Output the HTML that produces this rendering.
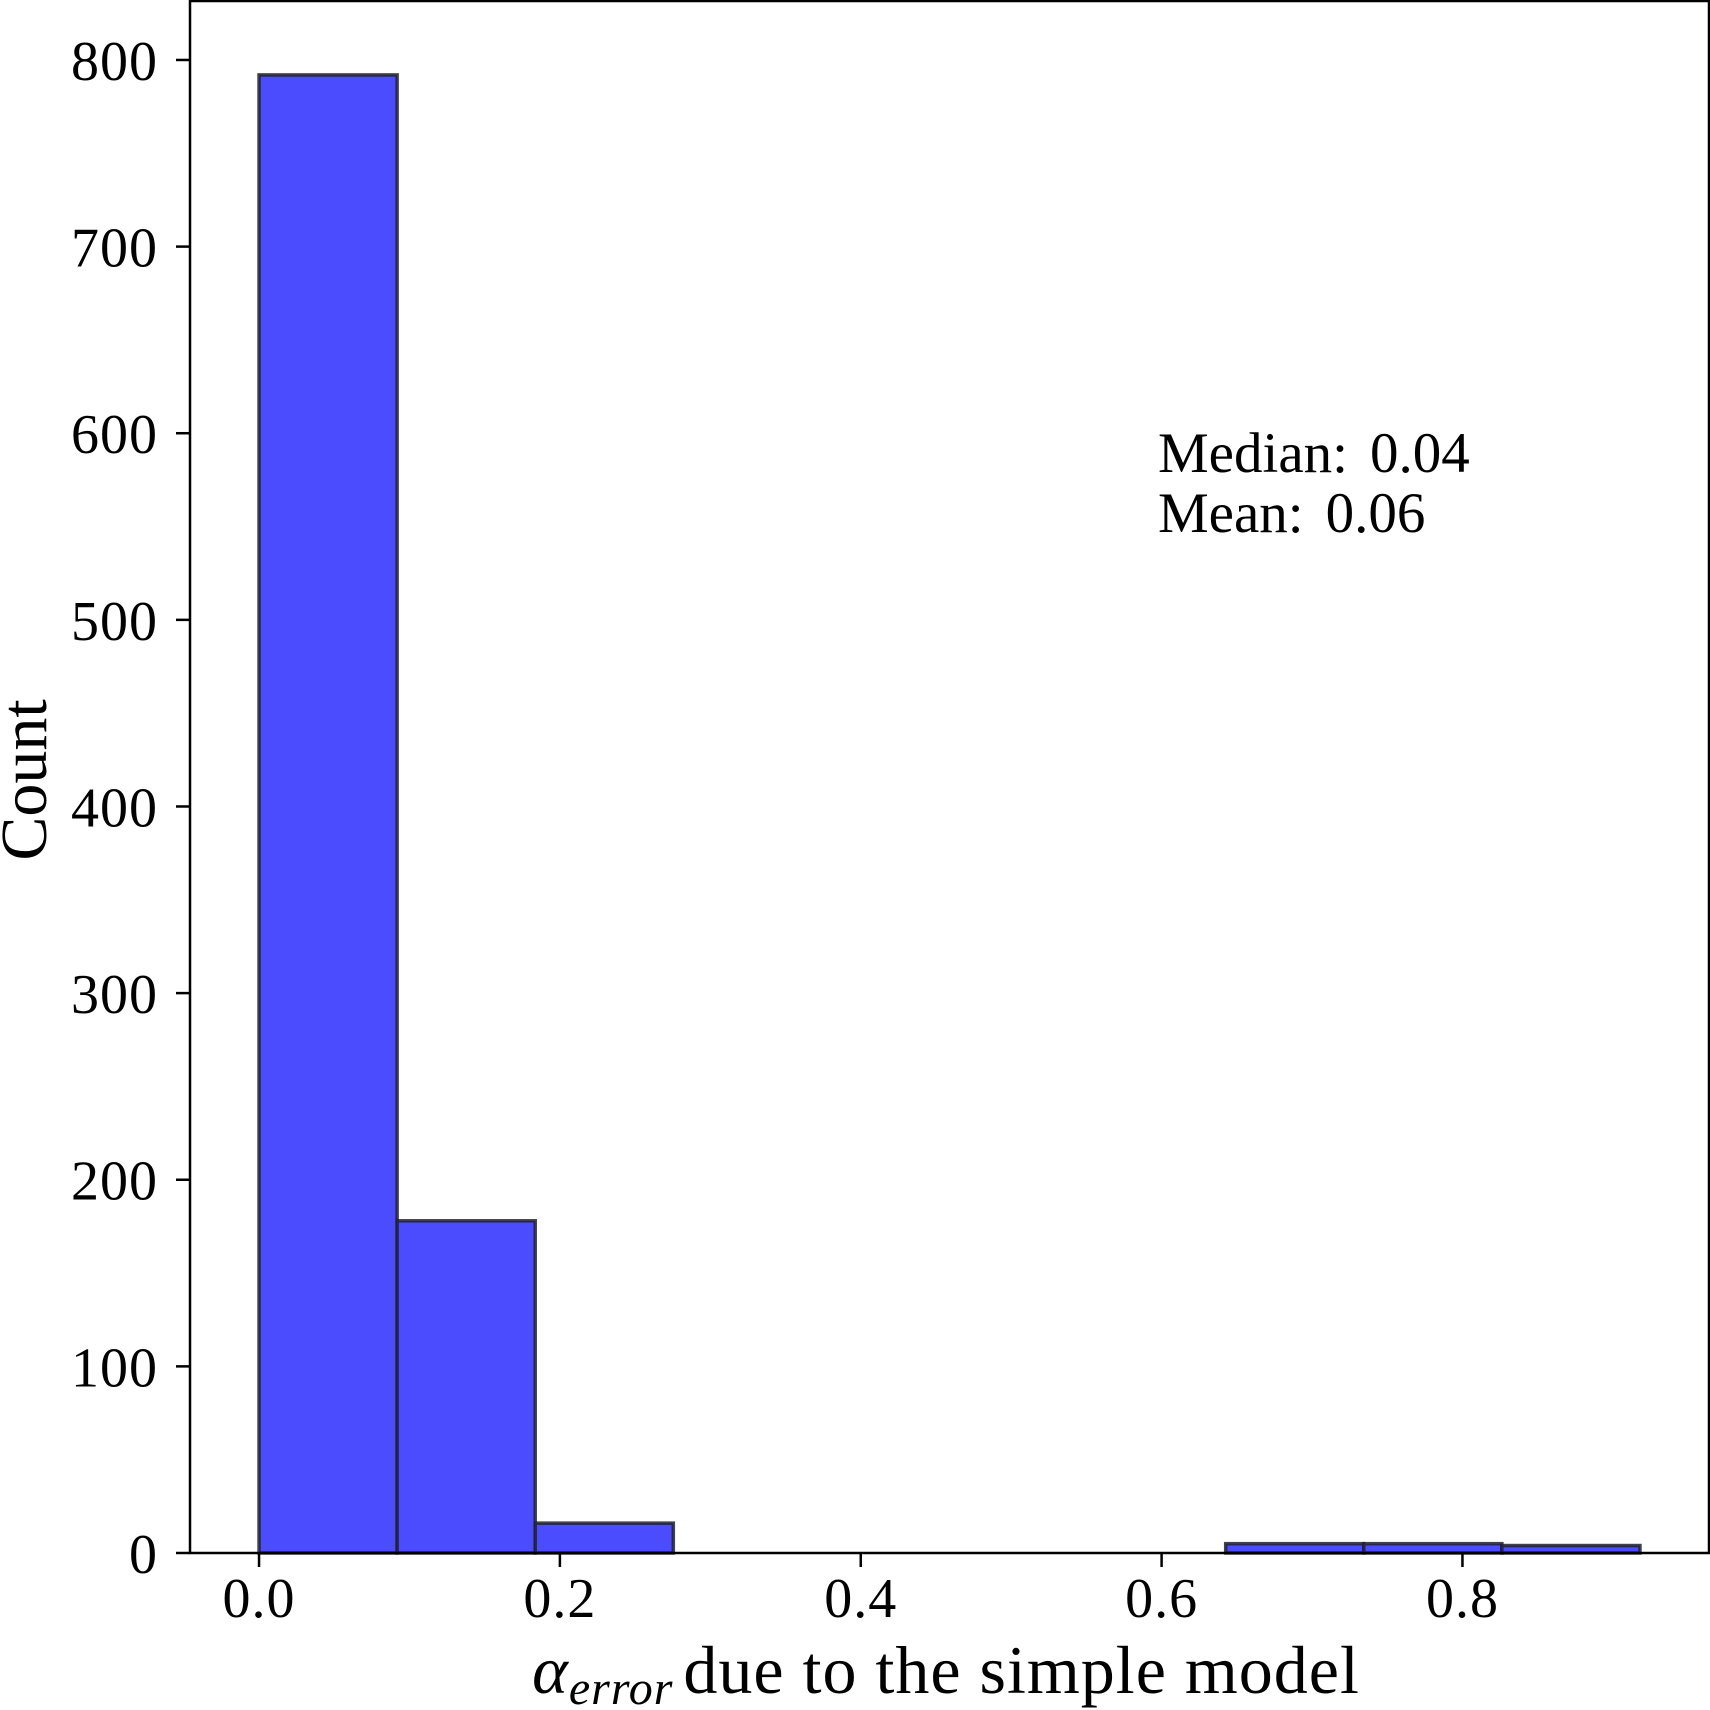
<!DOCTYPE html>
<html><head><meta charset="utf-8"><style>
html,body{margin:0;padding:0;background:#fff;}
svg{display:block;}
text{font-family:"Liberation Serif",serif;fill:#000;}
</style></head><body>
<svg id="chart" width="1710" height="1710" viewBox="0 0 1710 1710" xmlns="http://www.w3.org/2000/svg">
<g id="bars"></g>
<g id="axes"></g>
<text x="1158" y="472" font-size="57">Median:<tspan dx="22">0.04</tspan></text>
<text x="1158" y="532" font-size="57">Mean:<tspan dx="22">0.06</tspan></text>
<text x="946" y="1693" font-size="68" text-anchor="middle" letter-spacing="1"><tspan font-style="italic">α</tspan><tspan font-style="italic" font-size="48" dy="11">error</tspan><tspan dy="-11" dx="10">due to the simple model</tspan></text>
<text transform="translate(46,780) rotate(-90)" font-size="66" text-anchor="middle">Count</text>
</svg>
<script>
const binEdgeMax = 0.918;
const counts = [792, 178, 16, 0, 0, 0, 0, 5, 5, 4];
const xTicks = [0.0, 0.2, 0.4, 0.6, 0.8];
const xTickLabels = ["0.0", "0.2", "0.4", "0.6", "0.8"];
const yTicks = [0, 100, 200, 300, 400, 500, 600, 700, 800];
const yTickLabels = ["0", "100", "200", "300", "400", "500", "600", "700", "800"];

const NS = "http://www.w3.org/2000/svg";
const plotL = 190, plotR = 1709, plotT = 1, plotB = 1553;
const xMin = -0.0459, xMax = 0.9639, yMin = 0, yMax = 831.6;
function xs(v){ return plotL + (v - xMin) / (xMax - xMin) * (plotR - plotL); }
function ys(v){ return plotB - (v - yMin) / (yMax - yMin) * (plotB - plotT); }
function mk(tag, attrs){ const e = document.createElementNS(NS, tag); for (const k in attrs) e.setAttribute(k, attrs[k]); return e; }

const bars = document.getElementById('bars');
const w = binEdgeMax / counts.length;
counts.forEach((c, i) => {
  const x0 = xs(i * w), x1 = xs((i + 1) * w);
  const r = mk('rect', {x: x0, y: ys(c), width: x1 - x0, height: ys(0) - ys(c), fill: '#4c4cff', stroke: '#202030', 'stroke-opacity': 0.85, 'stroke-width': 3.5});
  
  
  bars.appendChild(r);
});

const axes = document.getElementById('axes');
const frame = mk('rect', {x: plotL, y: plotT, width: plotR - plotL, height: plotB - plotT, fill: 'none', stroke: '#000', 'stroke-width': 2.5});


axes.appendChild(frame);

xTicks.forEach((v, i) => {
  const x = xs(v);
  const t = mk('line', {x1: x, x2: x, y1: plotB, y2: plotB + 14, stroke: '#000', 'stroke-width': 2.5});
  
  
  axes.appendChild(t);
  const l = mk('text', {x: x, y: 1617, 'font-size': 56, 'text-anchor': 'middle', 'letter-spacing': 1});
  l.textContent = xTickLabels[i];
  
  
  axes.appendChild(l);
});
yTicks.forEach((v, i) => {
  const y = ys(v);
  const t = mk('line', {x1: plotL - 14, x2: plotL, y1: y, y2: y, stroke: '#000', 'stroke-width': 2.5});
  
  
  axes.appendChild(t);
  const l = mk('text', {x: 158, y: y + 20, 'font-size': 56, 'text-anchor': 'end', 'letter-spacing': 1});
  l.textContent = yTickLabels[i];
  
  
  axes.appendChild(l);
});
</script>
</body></html>
